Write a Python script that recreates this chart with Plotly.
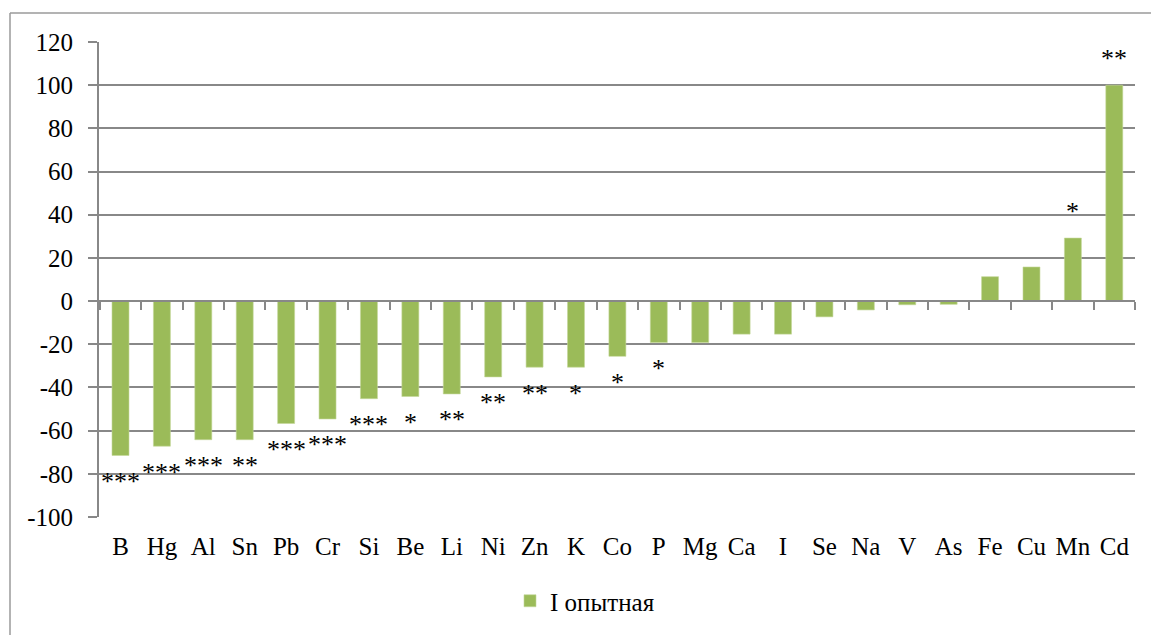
import plotly.graph_objects as go

elements = ["B", "Hg", "Al", "Sn", "Pb", "Cr", "Si", "Be", "Li", "Ni", "Zn", "K", "Co",
            "P", "Mg", "Ca", "I", "Se", "Na", "V", "As", "Fe", "Cu", "Mn", "Cd"]
values = [-71.5, -67.2, -64.2, -64.2, -56.7, -54.6, -45.2, -44.2, -43.0, -35.1, -30.6, -30.6, -25.6,
          -19.2, -19.2, -15.3, -15.3, -7.3, -4.1, -1.7, -1.5, 11.3, 15.8, 29.2, 100.0]
significance = ["***", "***", "***", "**", "***", "***", "***", "*", "**", "**", "**", "*", "*",
                "*", "", "", "", "", "", "", "", "", "", "*", "**"]
series_name = "I опытная"
y_ticks = [120, 100, 80, 60, 40, 20, 0, -20, -40, -60, -80, -100]
y_tick_labels = ["120", "100", "80", "60", "40", "20", "0", "-20", "-40", "-60", "-80", "-100"]

W, H = 1151, 635
ML, MR, MT, MB = 99, 16, 42, 118
PW, PH = W - ML - MR, H - MT - MB

FONT = "Liberation Serif, Times New Roman, serif"
GREY = "#888888"
GREEN = "#9BBB59"

fig = go.Figure()
fig.add_trace(go.Bar(
    x=elements, y=values, name=series_name,
    marker=dict(color=GREEN, line=dict(color="#c4d79b", width=0.6)),
    showlegend=True,
))

annotations = []
for el, v, s in zip(elements, values, significance):
    if not s:
        continue
    annotations.append(dict(
        x=el, y=v, xref="x", yref="y", text=s, showarrow=False,
        yanchor="middle", xanchor="center",
        yshift=27 if v > 0 else -26,
        font=dict(family=FONT, size=26, color="black"),
    ))

def px_x(px):
    return (px - ML) / PW

def px_y(py):
    return (H - MB - py) / PH

shapes = [
    dict(type="line", xref="paper", yref="paper", x0=px_x(10), x1=px_x(W + 5),
         y0=px_y(13), y1=px_y(13), line=dict(color="#9a9a9a", width=1.5)),
    dict(type="line", xref="paper", yref="paper", x0=px_x(10), x1=px_x(10),
         y0=px_y(13), y1=px_y(H + 5), line=dict(color="#9a9a9a", width=1.5)),
]

ymin, ymax = min(y_ticks), max(y_ticks)

fig.update_layout(
    width=W, height=H,
    margin=dict(l=ML, r=MR, t=MT, b=MB, autoexpand=False),
    paper_bgcolor="white", plot_bgcolor="white",
    font=dict(family=FONT, size=25, color="black"),
    bargap=0.59,
    showlegend=True,
    legend=dict(orientation="h", x=px_x(585), xanchor="center", y=px_y(601), yanchor="middle",
                font=dict(family=FONT, size=25, color="black"), itemwidth=30),
    xaxis=dict(type="category", showline=False, ticks="", showgrid=False, zeroline=False,
               ticklabelstandoff=12, tickfont=dict(family=FONT, size=25, color="black")),
    xaxis2=dict(type="category", overlaying="x", matches="x", anchor="free",
                position=(0 - ymin) / (ymax - ymin), showline=True, linecolor=GREY, linewidth=2,
                ticks="outside", tickson="boundaries", ticklen=8, tickwidth=2, tickcolor=GREY,
                showticklabels=False, showgrid=False, zeroline=False),
    yaxis=dict(range=[ymin, ymax], tickvals=y_ticks, ticktext=y_tick_labels,
               showgrid=True, gridcolor=GREY, gridwidth=2,
               showline=True, linecolor=GREY, linewidth=2, ticks="outside", ticklen=9,
               tickwidth=2, tickcolor=GREY, zeroline=False, ticklabelstandoff=10,
               tickfont=dict(family=FONT, size=25, color="black")),
    annotations=annotations,
    shapes=shapes,
)

# transparent helper trace that draws the category axis line along y = 0
fig.add_trace(go.Bar(x=elements, y=[0] * len(elements), xaxis="x2", showlegend=False,
                     hoverinfo="skip", marker=dict(color="rgba(0,0,0,0)")))

fig.write_html("out.html")
